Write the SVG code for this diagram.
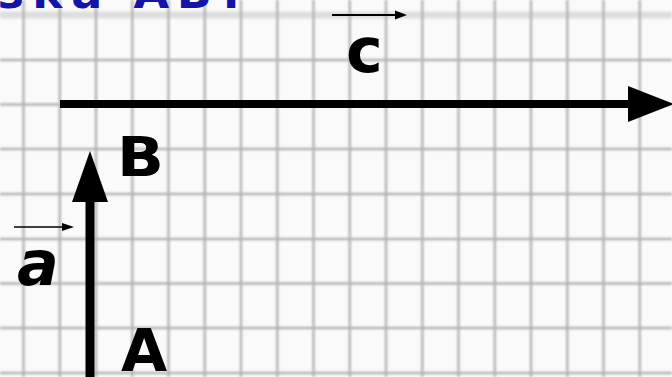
<svg xmlns="http://www.w3.org/2000/svg" width="672" height="377" viewBox="0 0 672 377">
  <defs>
    <filter id="soft" x="-5%" y="-5%" width="110%" height="110%">
      <feGaussianBlur stdDeviation="1.1"/>
    </filter>
  </defs>
  <style>
    .grid line { stroke: #b2b2b2; stroke-width: 2.4; }
    .lbl { font-family: "DejaVu Sans", Verdana, sans-serif; font-weight: bold; fill: #000; }
    .vec { stroke: #000; fill: none; }
    .head { fill: #000; stroke: none; }
  </style>
  <rect x="0" y="0" width="672" height="377" fill="#fafafa"/>
  <g id="grid" class="grid" filter="url(#soft)">
    <line x1="0" y1="15" x2="672" y2="15" style="stroke:#dedede;stroke-width:7"/>
    <line x1="0" y1="60" x2="672" y2="60"/>
    <line x1="0" y1="104.5" x2="672" y2="104.5"/>
    <line x1="0" y1="149" x2="672" y2="149"/>
    <line x1="0" y1="194" x2="672" y2="194"/>
    <line x1="0" y1="239" x2="672" y2="239"/>
    <line x1="0" y1="283.5" x2="672" y2="283.5"/>
    <line x1="0" y1="328" x2="672" y2="328"/>
    <line x1="0" y1="373" x2="672" y2="373"/>
    <line x1="23.5" y1="0" x2="23.5" y2="377"/>
    <line x1="59.8" y1="0" x2="59.8" y2="377"/>
    <line x1="96" y1="0" x2="96" y2="377"/>
    <line x1="132.3" y1="0" x2="132.3" y2="377"/>
    <line x1="168.5" y1="0" x2="168.5" y2="377"/>
    <line x1="204.8" y1="0" x2="204.8" y2="377"/>
    <line x1="241" y1="0" x2="241" y2="377"/>
    <line x1="277.3" y1="0" x2="277.3" y2="377"/>
    <line x1="313.5" y1="0" x2="313.5" y2="377"/>
    <line x1="349.8" y1="0" x2="349.8" y2="377"/>
    <line x1="386" y1="0" x2="386" y2="377"/>
    <line x1="422.3" y1="0" x2="422.3" y2="377"/>
    <line x1="458.5" y1="0" x2="458.5" y2="377"/>
    <line x1="494.8" y1="0" x2="494.8" y2="377"/>
    <line x1="531" y1="0" x2="531" y2="377"/>
    <line x1="567.3" y1="0" x2="567.3" y2="377"/>
    <line x1="603.5" y1="0" x2="603.5" y2="377"/>
    <line x1="639.8" y1="0" x2="639.8" y2="377"/>
  </g>
  <g id="title">
    <text x="-2" y="8" font-family="'DejaVu Sans', Verdana, sans-serif" font-weight="bold" font-size="46" fill="#1414a8" textLength="248" lengthAdjust="spacing">зка AB?</text>
  </g>
  <g id="connectors">
    <g id="vector-c">
      <line class="vec" x1="60" y1="104" x2="632" y2="104" stroke-width="8"/>
      <polygon class="head" points="628,86 674,104 628,122"/>
    </g>
    <g id="vector-AB">
      <line class="vec" x1="90" y1="377" x2="90" y2="198" stroke-width="9"/>
      <polygon class="head" points="72,202 90,151 108,202"/>
    </g>
    <g id="bar-a">
      <line class="vec" x1="14" y1="227" x2="64" y2="227" stroke-width="1.6"/>
      <polygon class="head" points="62,223 74,227 62,231"/>
    </g>
    <g id="bar-c">
      <line class="vec" x1="332" y1="15" x2="397" y2="15" stroke-width="1.8"/>
      <polygon class="head" points="395,10.5 407,15 395,19.5"/>
    </g>
  </g>
  <g id="label-B"><text class="lbl" x="0" y="0" font-size="56" transform="translate(117,176) scale(1.1,1)">B</text></g>
  <g id="label-A"><text class="lbl" x="0" y="0" font-size="58" transform="translate(121,371) scale(1.03,1)">A</text></g>
  <g id="label-c"><text class="lbl" x="346" y="72" font-size="62">c</text></g>
  <g id="label-a"><text class="lbl" x="17" y="285" font-size="62" font-style="italic">a</text></g>
</svg>
